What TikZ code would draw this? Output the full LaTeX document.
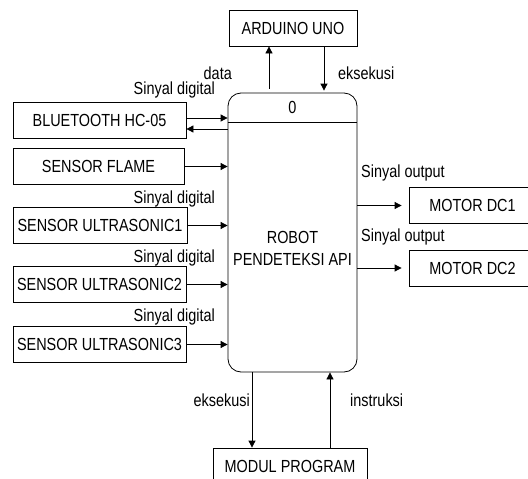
\documentclass[tikz,border=0pt]{standalone}
\usepackage{fontspec}
\setmainfont{Liberation Sans}[FakeStretch=0.825]
\usetikzlibrary{arrows.meta}
\tikzset{
  box/.style={draw, line width=0.8pt, minimum height=36pt, inner sep=0pt, align=center},
  lbl/.style={inner sep=0pt},
  arr/.style={line width=0.8pt, -{Triangle[length=7pt,width=7pt]}},
  ln/.style={line width=0.8pt}
}
\begin{document}
\begin{tikzpicture}[x=1pt,y=-1pt,font=\fontsize{17.5}{22}\selectfont]
\useasboundingbox (0,0) rectangle (528,479);
\clip (0,0) rectangle (528,479);
% main process
\node[draw, line width=0.8pt, rounded corners=13pt, minimum width=129pt, minimum height=279pt, inner sep=0pt] (proc) at (292.5,232.5) {};
\draw[ln] (proc.west |- 0,122) coordinate (dl) -- (proc.east |- 0,122) coordinate (dr);
\node[lbl] (zero) at (292.5,107) {0};
\node[lbl, align=center] (ptxt) at (292.5,248) {ROBOT\\PENDETEKSI API};
% external entities
\node[box, minimum width=128pt] (ard) at (293,28) {ARDUINO UNO};
\node[box, minimum width=173pt] (bt) at (99.5,120.5) {BLUETOOTH HC-05};
\node[box, minimum width=171pt] (fl) at (98.5,166.5) {SENSOR FLAME};
\node[box, minimum width=174pt] (u1) at (100,225.5) {SENSOR ULTRASONIC1};
\node[box, minimum width=173pt] (u2) at (99.5,284.5) {SENSOR ULTRASONIC2};
\node[box, minimum width=173pt] (u3) at (99.5,344.5) {SENSOR ULTRASONIC3};
\node[box, minimum width=127pt] (m1) at (472.5,205.5) {MOTOR DC1};
\node[box, minimum width=127pt] (m2) at (472.5,268) {MOTOR DC2};
\node[box, minimum width=154pt] (mp) at (290,466) {MODUL PROGRAM};
% connectors top
\draw[arr] ([xshift=-23.5pt,yshift=4pt]proc.north) -- ([xshift=-23.5pt]proc.north |- ard.south);
\draw[arr] ([xshift=31.5pt]proc.north |- ard.south) -- ([xshift=31.5pt,yshift=2pt]proc.north);
% bluetooth
\draw[arr] ([yshift=2.5pt]bt.east) -- ([yshift=2.5pt]bt.east -| proc.west);
\draw[arr] ([yshift=-8.5pt]bt.east -| proc.west) -- ([yshift=-8.5pt]bt.east);
% sensors
\draw[arr] (fl.east) -- (fl.east -| proc.west);
\draw[arr] (u1.east) -- (u1.east -| proc.west);
\draw[arr] (u2.east) -- (u2.east -| proc.west);
\draw[arr] (u3.east) -- (u3.east -| proc.west);
% motors
\draw[arr] (proc.east |- m1.west) -- ([xshift=-7pt]m1.west);
\draw[arr] (proc.east |- m2.west) -- ([xshift=-7pt]m2.west);
% modul program
\draw[arr] ([xshift=-40.5pt]proc.south) -- ([xshift=-40.5pt]proc.south |- mp.north);
\draw[arr] ([xshift=37.5pt]proc.south |- mp.north) -- ([xshift=37.5pt]proc.south);
% labels
\node[lbl, anchor=east] (ldata) at (232,73) {data};
\node[lbl, anchor=west] (leks1) at (338,73) {eksekusi};
\node[lbl, anchor=east] (ls1) at (215,90) {Sinyal digital};
\node[lbl, anchor=east] (ls2) at (215,199) {Sinyal digital};
\node[lbl, anchor=east] (ls3) at (215,258) {Sinyal digital};
\node[lbl, anchor=east] (ls4) at (215,317) {Sinyal digital};
\node[lbl, anchor=west] (lo1) at (361,173) {Sinyal output};
\node[lbl, anchor=west] (lo2) at (361,237) {Sinyal output};
\node[lbl, anchor=east] (leks2) at (250,400) {eksekusi};
\node[lbl, anchor=west] (lins) at (350,400) {instruksi};
\end{tikzpicture}
\end{document}
